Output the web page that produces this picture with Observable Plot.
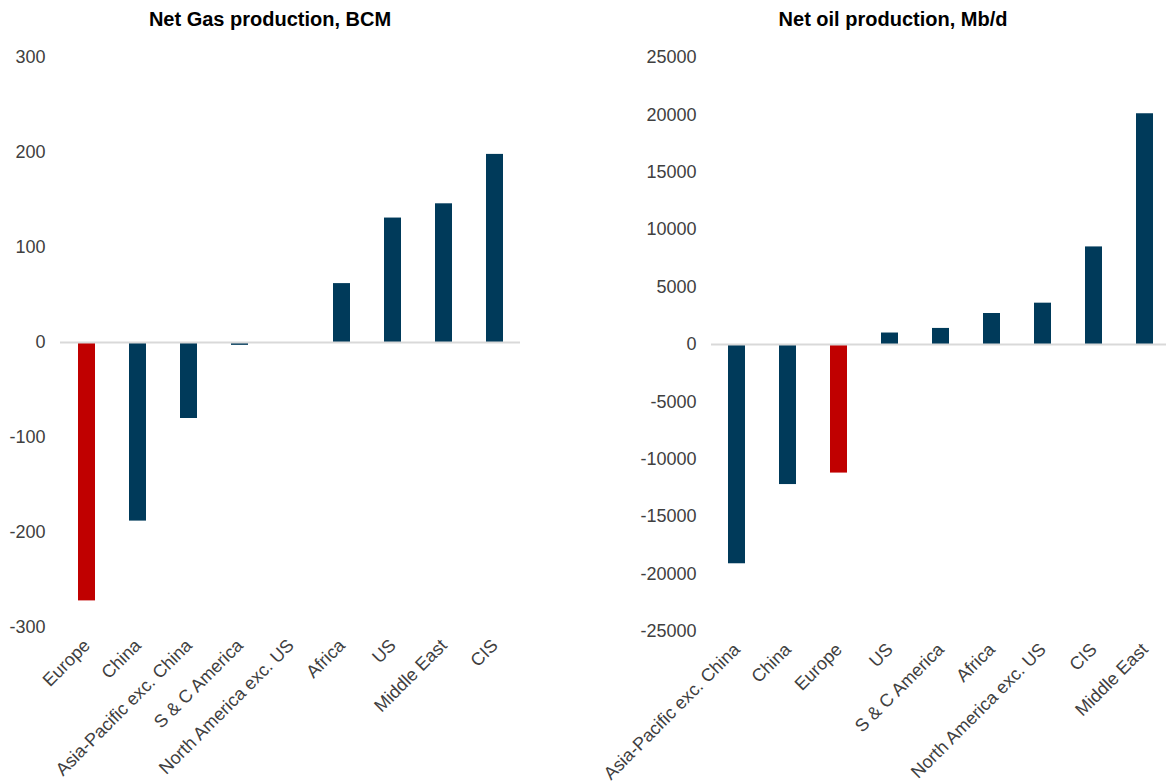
<!DOCTYPE html>
<html><head><meta charset="utf-8">
<script src="https://cdn.jsdelivr.net/npm/d3@7"></script>
<script src="https://cdn.jsdelivr.net/npm/@observablehq/plot@0.6"></script>
<style>
body{margin:0;background:#fff;width:1166px;height:783px;overflow:hidden;position:relative;font-family:"Liberation Sans",Arial,sans-serif;}
.title{position:absolute;top:7px;font-weight:bold;font-size:20px;line-height:24px;color:#000;text-align:center;}
.chart{position:absolute;top:0;}
</style>
</head><body>
<div class="title" style="left:0;width:540px">Net Gas production, BCM</div>
<div class="title" style="left:583px;width:620px">Net oil production, Mb/d</div>
<div id="gas" class="chart" style="left:0;width:583px"></div>
<div id="oil" class="chart" style="left:583px;width:600px"></div>
<script>
const gasRegions = ["Europe","China","Asia-Pacific exc. China","S & C America","North America exc. US","Africa","US","Middle East","CIS"];
const gasValues = [-272,-188,-80,-3,0,62,131,146,198];
const gasTicks = [-300,-200,-100,0,100,200,300];

const oilRegions = ["Asia-Pacific exc. China","China","Europe","US","S & C America","Africa","North America exc. US","CIS","Middle East"];
const oilValues = [-19100,-12200,-11200,1000,1400,2700,3600,8500,20100];
const oilTicks = [-25000,-20000,-15000,-10000,-5000,0,5000,10000,15000,20000,25000];

const highlight = "Europe";
const navy = "#003A5A", red = "#C00000";

function chart(regions, values, ticks, opts) {
  const data = regions.map((r, i) => ({region: r, value: values[i]}));
  return Plot.plot({
    width: opts.width, height: 783,
    marginLeft: opts.ml, marginRight: opts.mr, marginTop: 57, marginBottom: opts.mb,
    style: {fontFamily: '"Liberation Sans", Arial, sans-serif', fontSize: "18px", color: "#404040", background: "transparent", overflow: "visible", maxWidth: "none"},
    x: {domain: regions, paddingInner: 0.67, paddingOuter: 0.335, axis: null, label: null},
    y: {domain: [ticks[0], ticks[ticks.length-1]], axis: null, label: null},
    marks: [
      Plot.barY(data, {x: "region", y: "value", fill: d => d.region === highlight ? red : navy}),
      Plot.ruleY([0], {stroke: "#d9d9d9", strokeWidth: 2}),
      Plot.axisY(ticks, {tickSize: 0, tickPadding: 15, fontSize: 18, fill: "#404040", label: null, tickFormat: d => String(d)}),
      Plot.axisX({tickSize: 0, tickPadding: 15, tickRotate: -45, fontSize: 18, fill: "#404040", label: null})
    ]
  });
}

document.getElementById("gas").appendChild(chart(gasRegions, gasValues, gasTicks, {width: 583, ml: 60, mr: 63, mb: 156}));
document.getElementById("oil").appendChild(chart(oilRegions, oilValues, oilTicks, {width: 600, ml: 128, mr: 13, mb: 152}));
</script>
</body></html>
